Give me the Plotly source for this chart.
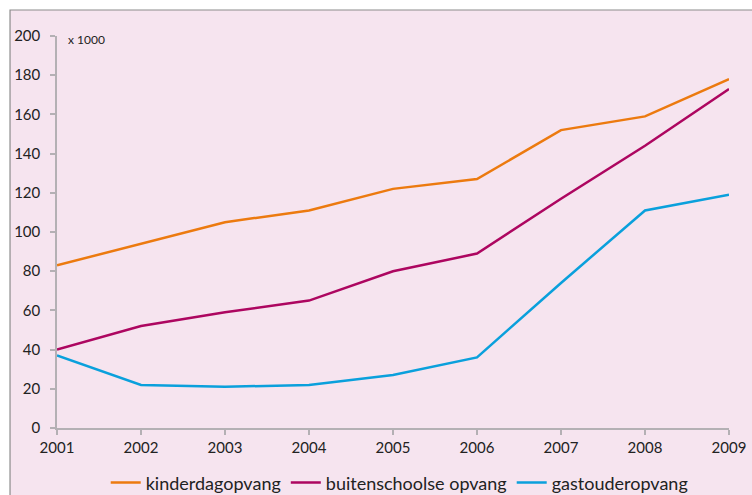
import plotly.graph_objects as go

years = [2001, 2002, 2003, 2004, 2005, 2006, 2007, 2008, 2009]
kinderdagopvang = [83, 94, 105, 111, 122, 127, 152, 159, 178]
buitenschoolse_opvang = [40, 52, 59, 65, 80, 89, 117, 144, 173]
gastouderopvang = [37, 22, 21, 22, 27, 36, 74, 111, 119]

series_names = ["kinderdagopvang", "buitenschoolse opvang", "gastouderopvang"]
series_colors = ["#ec7a0f", "#ad0660", "#0aa0dc"]
y_ticks = [0, 20, 40, 60, 80, 100, 120, 140, 160, 180, 200]

FONT = "Lato, 'Open Sans', sans-serif"
BG = "#f6e4ef"
AXIS = "#b4b0b4"

fig = go.Figure()
for name, vals, col in zip(series_names,
                           [kinderdagopvang, buitenschoolse_opvang, gastouderopvang],
                           series_colors):
    fig.add_trace(go.Scatter(x=years, y=vals, name=name, mode="lines",
                             line=dict(color=col, width=2.5)))

# pink panel with a thin grey frame on the top and left
fig.add_shape(type="rect", xref="paper", yref="paper",
              x0=-0.0699, x1=1.2, y0=-0.3, y1=1.0663,
              fillcolor=BG, line=dict(color="#8c8c8c", width=1.2),
              layer="below")

fig.add_annotation(text="x 1000", xref="paper", yref="paper",
                   x=0.013, y=0.99, xanchor="left", yanchor="middle",
                   showarrow=False, font=dict(family=FONT, size=12, color="#222"))

fig.update_layout(
    width=752, height=495,
    margin=dict(l=57, r=23, t=36, b=67, autoexpand=False),
    paper_bgcolor="white", plot_bgcolor="rgba(0,0,0,0)",
    font=dict(family=FONT, size=15, color="#222"),
    showlegend=True,
    legend=dict(orientation="h", x=0.51, xanchor="center", y=-0.14, yanchor="middle",
                font=dict(size=18, color="#222"), bgcolor="rgba(0,0,0,0)",
                itemwidth=30, traceorder="normal"),
    xaxis=dict(range=[2001, 2009], tickmode="array", tickvals=years,
               ticktext=[str(y) for y in years], showgrid=False, zeroline=False,
               showline=True, linecolor=AXIS, linewidth=1.5,
               ticks="outside", ticklen=5, tickcolor=AXIS, tickwidth=1.5,
               tickfont=dict(size=15)),
    yaxis=dict(range=[0, 200], tickmode="array", tickvals=y_ticks,
               showgrid=False, zeroline=False,
               showline=True, linecolor=AXIS, linewidth=1.5,
               ticks="outside", ticklen=5, tickcolor=AXIS, tickwidth=1.5,
               ticklabelstandoff=7, tickfont=dict(size=15)),
)

fig.write_html("out.html")
